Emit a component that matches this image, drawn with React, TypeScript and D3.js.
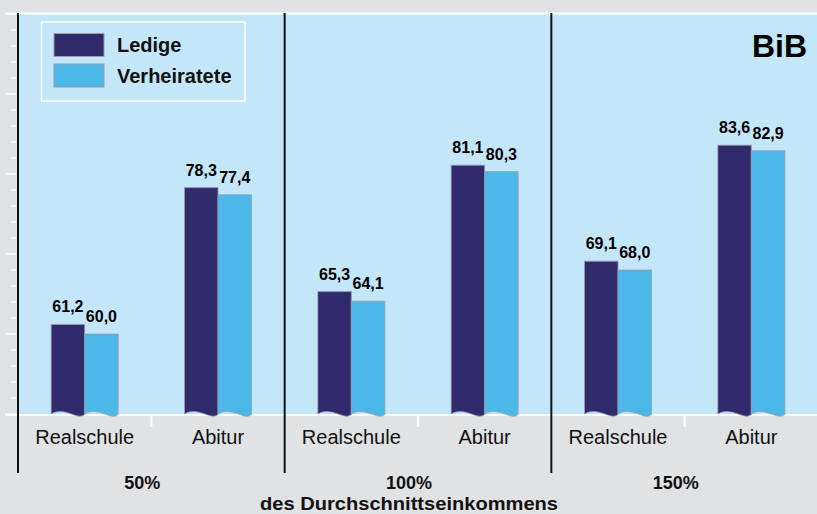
import React from "react";
import * as d3 from "d3";

const panels = ["50%", "100%", "150%"];
const categories = ["Realschule", "Abitur"];
const series = ["Ledige", "Verheiratete"];
const ledige = [61.2, 78.3, 65.3, 81.1, 69.1, 83.6];
const verheiratete = [60.0, 77.4, 64.1, 80.3, 68.0, 82.9];
const yDomain = [50, 100];
const axisTitle = "des Durchschnittseinkommens";
const brand = "BiB";

const W = 817;
const H = 514;
const colors = ["#302a6b", "#4cb8e8"];
const FONT = "'Liberation Sans', Arial, Helvetica, sans-serif";

const locale = d3.formatLocale({ decimal: ",", thousands: ".", grouping: [3], currency: ["", "€"] });
const fmt = locale.format(".1f");

export default function App() {
  const left = 18;
  const right = 818;
  const top = 14;
  const bottom = 414;

  const y = d3.scaleLinear().domain(yDomain).range([bottom, top]);
  const slots = panels.flatMap((p) => categories.map((c) => `${p}|${c}`));
  const x = d3.scaleBand<string>().domain(slots).range([left, right]).padding(0);
  const px = d3.scaleBand<string>().domain(panels).range([left, right]).padding(0);
  const sx = d3.scaleBand<string>().domain(series).range([-33.5, 33.5]).padding(0);

  const minorTicks = d3.range(yDomain[0], yDomain[1] + 0.001, 2);
  const B = y(yDomain[0]);

  const barPath = (x0: number, x1: number, yt: number) => {
    const w = x1 - x0;
    return `M${x0},${B} L${x0},${yt} L${x1},${yt} L${x1},${B + 0.5} C${x0 + 0.78 * w},${B + 7} ${x0 + 0.42 * w},${B - 8} ${x0},${B} Z`;
  };

  const bars: React.ReactNode[] = [];
  const labels: React.ReactNode[] = [];
  slots.forEach((slot, i) => {
    const cx = (x(slot) as number) + x.bandwidth() / 2;
    [ledige[i], verheiratete[i]].forEach((v, si) => {
      const x0 = cx + (sx(series[si]) as number);
      const x1 = x0 + sx.bandwidth();
      const yt = y(v);
      bars.push(
        <path key={`b${i}-${si}`} d={barPath(x0, x1, yt)} fill={colors[si]} stroke="#9a9cb4" strokeWidth={0.8} />
      );
      labels.push(
        <text key={`l${i}-${si}`} x={(x0 + x1) / 2} y={yt - 12} textAnchor="middle" fontSize={16} fontWeight="bold" fill="#000">
          {fmt(v)}
        </text>
      );
    });
  });

  return (
    <div style={{ position: "absolute", left: 0, top: 0 }}>
      <svg width={W} height={H} style={{ display: "block", fontFamily: FONT }}>
        <rect x={0} y={0} width={W} height={H} fill="#e1e2e4" />
        <rect x={left} y={top} width={W - left} height={bottom - top} fill="#c3e7f9" />

        {/* left ticks */}
        {minorTicks.map((t) => {
          const major = t % 10 === 0;
          return (
            <line key={`t${t}`} x1={major ? 6 : 11} x2={16} y1={y(t)} y2={y(t)} stroke="#ffffff" strokeWidth={1.5} />
          );
        })}
        <line x1={5} x2={W} y1={y(yDomain[1]) - 0.5} y2={y(yDomain[1]) - 0.5} stroke="#ffffff" strokeWidth={2} />
        <line x1={5} x2={W} y1={B + 1} y2={B + 1} stroke="#ffffff" strokeWidth={2} />

        {/* white ticks between categories */}
        {panels.map((p) => {
          const mx = (px(p) as number) + px.bandwidth() / 2;
          return <line key={`m${p}`} x1={mx} x2={mx} y1={B} y2={B + 13} stroke="#ffffff" strokeWidth={2} />;
        })}

        {bars}
        {labels}

        {/* panel dividers */}
        {panels.map((p) => {
          const xx = px(p) as number;
          return <line key={`d${p}`} x1={xx} x2={xx} y1={13} y2={473} stroke="#111" strokeWidth={2} />;
        })}

        {/* category labels */}
        {slots.map((slot, i) => (
          <text key={`c${i}`} x={(x(slot) as number) + x.bandwidth() / 2} y={444} textAnchor="middle" fontSize={20} fill="#111">
            {slot.split("|")[1]}
          </text>
        ))}

        {/* panel labels */}
        {panels.map((p) => (
          <text key={`p${p}`} x={(px(p) as number) + px.bandwidth() / 2 - 9} y={489} textAnchor="middle" fontSize={18} fontWeight="bold" fill="#111">
            {p}
          </text>
        ))}
        <text x={409} y={510} textAnchor="middle" fontSize={18} fontWeight="bold" fill="#111" textLength={298} lengthAdjust="spacingAndGlyphs">
          {axisTitle}
        </text>

        {/* legend */}
        <rect x={41.5} y={22} width={203.5} height={79} fill="none" stroke="#ffffff" strokeWidth={1.5} />
        {series.map((s, i) => (
          <g key={`lg${s}`}>
            <rect x={54} y={33.5 + i * 30.5} width={50} height={23} fill={colors[i]} stroke="#9a9aa8" strokeWidth={1} />
            <text x={117} y={52 + i * 31} fontSize={20} fontWeight="bold" fill="#111">
              {s}
            </text>
          </g>
        ))}

        <text x={807} y={57} textAnchor="end" fontSize={32} fontWeight="bold" fill="#000">
          {brand}
        </text>
      </svg>
    </div>
  );
}
